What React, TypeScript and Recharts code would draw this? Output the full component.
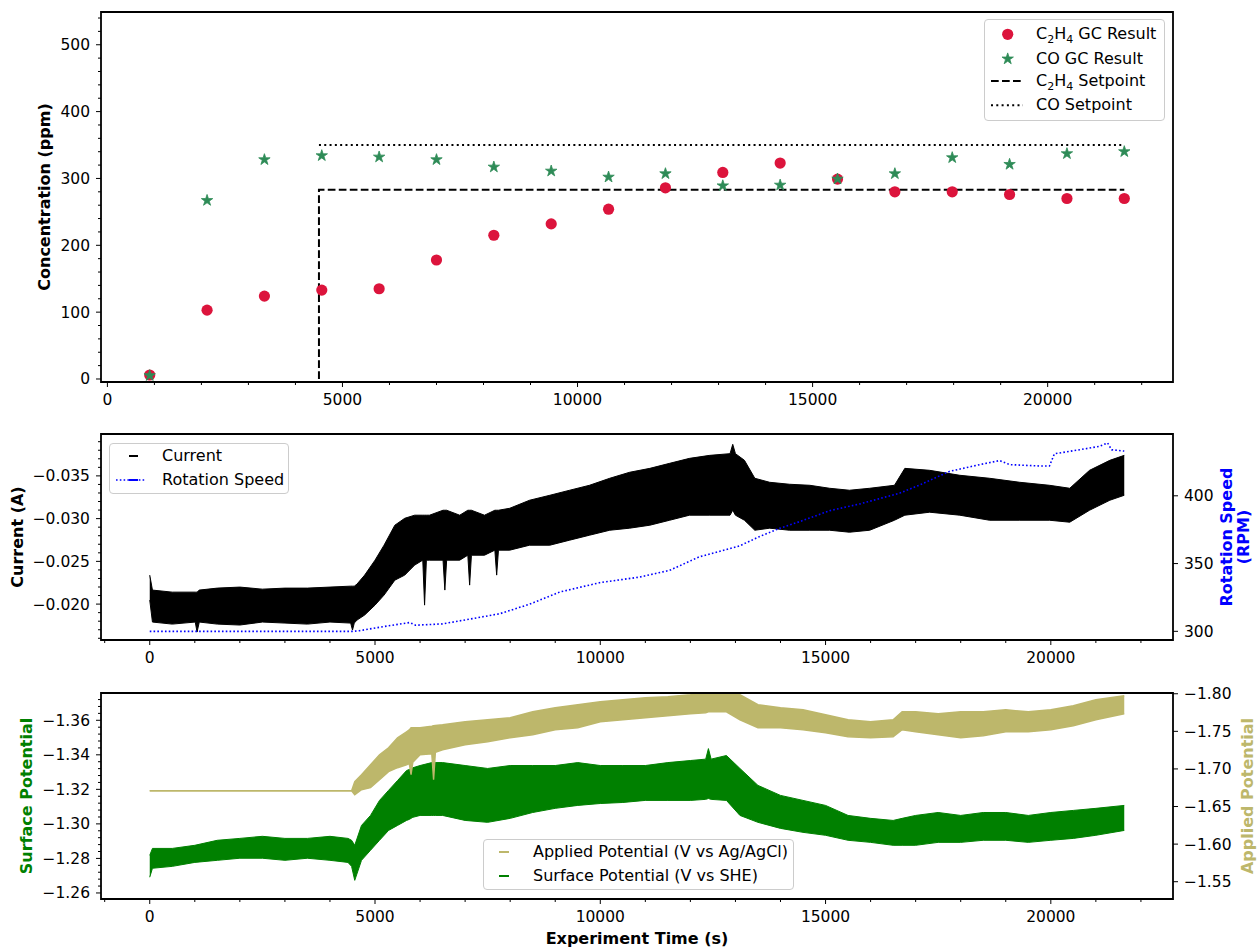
import React from "react";
import { Area, ComposedChart, Line, ReferenceArea, Scatter, XAxis, YAxis } from "recharts";

const FONT = "'DejaVu Sans', Verdana, sans-serif";

// ---- top panel: GC results (ppm) ----
const GC_TIME = [900, 2120, 3340, 4560, 5780, 7000, 8220, 9440, 10660, 11870, 13090, 14310, 15530, 16750, 17970, 19190, 20410, 21630];
const C2H4_GC = [6, 103, 124, 133, 135, 178, 215, 232, 254, 286, 309, 323, 299, 280, 280, 276, 270, 270];
const CO_GC = [6, 268, 329, 335, 333, 329, 318, 312, 303, 308, 290, 291, 300, 308, 332, 322, 338, 341];
const C2H4_SET_TIME = [4500, 4500, 21630];
const C2H4_SET = [0, 283, 283];
const CO_SET_TIME = [4500, 21630];
const CO_SET = [350, 350];

// ---- middle panel: current (A) envelope and rotation speed (RPM) ----
const CURRENT_TIME = [0, 60, 500, 1010, 1050, 1100, 1500, 2000, 2500, 3000, 3500, 4000, 4460, 4500, 4540, 4600, 4770, 5000, 5200, 5440, 5660, 5880, 6060, 6100, 6140, 6210, 6510, 6550, 6590, 6880, 7060, 7100, 7140, 7430, 7660, 7700, 7740, 7990, 8430, 8880, 9320, 9760, 10210, 10650, 11100, 11540, 11980, 12430, 12880, 12940, 13000, 13200, 13430, 13760, 14200, 14650, 15090, 15530, 15980, 16530, 16760, 17310, 17980, 18640, 19310, 19970, 20420, 20860, 21310, 21630];
const CURRENT_TOP = [-0.02339, -0.02164, -0.0214, -0.0214, -0.0214, -0.02164, -0.02187, -0.02199, -0.02175, -0.02187, -0.02187, -0.02199, -0.0221, -0.0221, -0.0221, -0.02234, -0.02339, -0.02514, -0.02689, -0.02923, -0.03004, -0.0304, -0.0304, -0.0304, -0.0304, -0.0304, -0.03098, -0.03098, -0.03098, -0.0304, -0.03098, -0.03098, -0.03098, -0.0304, -0.03098, -0.03098, -0.03098, -0.03121, -0.03215, -0.03273, -0.03332, -0.0339, -0.03472, -0.03542, -0.03588, -0.03647, -0.03705, -0.0374, -0.0376, -0.03869, -0.0376, -0.03682, -0.03472, -0.03425, -0.03402, -0.0339, -0.03355, -0.03332, -0.03355, -0.0339, -0.03588, -0.03565, -0.03507, -0.03472, -0.03425, -0.0339, -0.03355, -0.03565, -0.03682, -0.0374];
const CURRENT_BOTTOM = [-0.02047, -0.0179, -0.01766, -0.0179, -0.01673, -0.0179, -0.01766, -0.01755, -0.0179, -0.01778, -0.01766, -0.0179, -0.01778, -0.01696, -0.01778, -0.01813, -0.01872, -0.01988, -0.02105, -0.0228, -0.02339, -0.02456, -0.02514, -0.01988, -0.02514, -0.02514, -0.02514, -0.02164, -0.02514, -0.02514, -0.02572, -0.02222, -0.02572, -0.02572, -0.02631, -0.02339, -0.02631, -0.02631, -0.02689, -0.02689, -0.02748, -0.02806, -0.02864, -0.02888, -0.02923, -0.02981, -0.0304, -0.0304, -0.0304, -0.03098, -0.0304, -0.02981, -0.02864, -0.02888, -0.02864, -0.02864, -0.02864, -0.02841, -0.02864, -0.02981, -0.0304, -0.03075, -0.0304, -0.02981, -0.02981, -0.02981, -0.02958, -0.03098, -0.03215, -0.03273];
const RPM_TIME = [0, 4500, 4660, 5100, 5770, 5900, 6500, 7100, 7770, 8430, 9100, 10000, 10870, 11540, 12200, 13090, 13540, 13980, 14430, 15090, 15760, 16650, 17090, 17750, 18420, 18860, 19090, 19750, 19970, 20080, 20640, 21080, 21260, 21350, 21630];
const RPM = [300, 300, 300.5, 303, 306.5, 304.5, 305.5, 309, 313, 320, 329, 336, 340, 345, 355, 363, 370, 376, 381, 389, 394, 402, 408, 418, 423, 426, 423, 422, 422, 431, 434, 436.5, 439, 434, 433];

// ---- bottom panel: surface and applied potential envelopes (V) ----
const POT_TIME = [0, 60, 500, 1000, 1500, 2000, 2500, 3000, 3500, 4000, 4400, 4480, 4550, 4700, 4900, 5100, 5300, 5500, 5700, 5760, 5800, 5840, 6000, 6260, 6300, 6340, 6500, 7000, 7500, 8000, 8500, 9000, 9500, 10000, 10500, 11000, 11500, 12000, 12340, 12400, 12460, 12800, 13100, 13500, 14000, 14500, 15000, 15500, 16000, 16500, 16700, 17000, 17500, 18000, 18500, 19000, 19500, 20000, 20500, 21000, 21630];
const SURFACE_TOP = [-1.2818, -1.2858, -1.2858, -1.2876, -1.2905, -1.2916, -1.2928, -1.2916, -1.2916, -1.2928, -1.2916, -1.2905, -1.2876, -1.2991, -1.3049, -1.3136, -1.3194, -1.3251, -1.3309, -1.3315, -1.3321, -1.3325, -1.3338, -1.3355, -1.3355, -1.3355, -1.3355, -1.3338, -1.3321, -1.3338, -1.3338, -1.3338, -1.3355, -1.3338, -1.3338, -1.3338, -1.3355, -1.3367, -1.3375, -1.3436, -1.3375, -1.3396, -1.3321, -1.3223, -1.3165, -1.3136, -1.3107, -1.3049, -1.3032, -1.302, -1.3032, -1.3049, -1.3066, -1.3049, -1.3066, -1.3066, -1.3049, -1.3066, -1.3078, -1.309, -1.3107];
const SURFACE_BOTTOM = [-1.2691, -1.2743, -1.2754, -1.2777, -1.2789, -1.2801, -1.2801, -1.2789, -1.2801, -1.2789, -1.2777, -1.2754, -1.2673, -1.2789, -1.2847, -1.2905, -1.2962, -1.2991, -1.302, -1.3026, -1.3032, -1.3038, -1.3049, -1.3049, -1.3049, -1.3049, -1.3049, -1.302, -1.3009, -1.3032, -1.3066, -1.309, -1.3107, -1.3118, -1.3124, -1.3136, -1.3136, -1.3136, -1.3142, -1.3147, -1.3142, -1.3136, -1.3049, -1.3009, -1.2974, -1.2951, -1.2934, -1.2905, -1.2893, -1.2876, -1.2876, -1.2876, -1.2893, -1.2893, -1.2905, -1.2905, -1.2893, -1.2905, -1.2916, -1.2934, -1.2962];
const APPLIED_TOP = [-1.671, -1.671, -1.671, -1.671, -1.671, -1.671, -1.671, -1.671, -1.671, -1.671, -1.671, -1.671, -1.683, -1.6923, -1.7056, -1.7189, -1.7282, -1.7415, -1.7495, -1.752, -1.7548, -1.7548, -1.7548, -1.757, -1.7574, -1.7578, -1.7588, -1.7628, -1.7654, -1.7681, -1.776, -1.7814, -1.7854, -1.7894, -1.792, -1.7947, -1.796, -1.7987, -1.801, -1.8027, -1.803, -1.804, -1.7987, -1.7854, -1.7814, -1.7787, -1.772, -1.7654, -1.7628, -1.7654, -1.776, -1.776, -1.7734, -1.776, -1.776, -1.7787, -1.776, -1.7787, -1.784, -1.792, -1.7973];
const APPLIED_BOTTOM = [-1.671, -1.671, -1.671, -1.671, -1.671, -1.671, -1.671, -1.671, -1.671, -1.671, -1.671, -1.671, -1.6657, -1.6723, -1.675, -1.6856, -1.6963, -1.7016, -1.7056, -1.707, -1.6923, -1.709, -1.7189, -1.72, -1.6856, -1.722, -1.7255, -1.7322, -1.7362, -1.7415, -1.7455, -1.7521, -1.7548, -1.7628, -1.7654, -1.7681, -1.7707, -1.7734, -1.7748, -1.776, -1.776, -1.776, -1.7654, -1.7548, -1.7548, -1.7521, -1.7481, -1.7428, -1.7415, -1.7428, -1.7521, -1.7495, -1.7455, -1.7415, -1.7441, -1.7495, -1.7495, -1.7521, -1.7574, -1.7654, -1.7734];

// ---- axes ----
const TOP_X_DOMAIN = [-136, 22666];
const TOP_Y_DOMAIN = [-4.5, 549];
const TS_X_DOMAIN = [-1082, 22712];
const CUR_DOMAIN = [-0.0399, -0.0158];
const RPM_DOMAIN = [293.6, 445.6];
const SURF_DOMAIN = [-1.3758, -1.2565];
const APPL_DOMAIN = [-1.801, -1.527];

const TIME_TICKS = [0, 5000, 10000, 15000, 20000];
const PPM_TICKS = [0, 100, 200, 300, 400, 500];
const CUR_TICKS = [-0.035, -0.03, -0.025, -0.02];
const RPM_TICKS = [300, 350, 400];
const SURF_TICKS = [-1.36, -1.34, -1.32, -1.3, -1.28, -1.26];
const APPL_TICKS = [-1.8, -1.75, -1.7, -1.65, -1.6, -1.55];

const steps = (from: number, to: number, step: number) => {
  const out: number[] = [];
  const n = Math.round((to - from) / step);
  for (let i = 0; i <= n; i++) out.push(Number((from + i * step).toFixed(6)));
  return out;
};

const TOP_X_MINOR = steps(0, 22000, 1000);
const TS_X_MINOR = steps(-1000, 22000, 1000);
const PPM_MINOR = steps(0, 540, 20);
const CUR_MINOR = steps(-0.039, -0.016, 0.001);
const SURF_MINOR = steps(-1.372, -1.26, 0.004);

const minus = (s: string) => s.replace("-", "\u2212");
const isMajor = (v: number, majors: number[]) => majors.some((m) => Math.abs(m - v) < 1e-9);
const tickText = { fontFamily: FONT, fontSize: 15.5, fill: "#000" };

function bottomTick(majors: number[]) {
  return (props: any) => {
    const { x, y, payload } = props;
    const major = isMajor(payload.value, majors);
    return (
      <g>
        <line x1={x} x2={x} y1={y} y2={y + (major ? 5 : 3)} stroke="#000" strokeWidth={1} />
        {major && (
          <text x={x} y={y + 23} textAnchor="middle" {...tickText}>
            {minus(String(payload.value))}
          </text>
        )}
      </g>
    );
  };
}

function leftTick(majors: number[], fmt: (v: number) => string) {
  return (props: any) => {
    const { x, y, payload } = props;
    const major = isMajor(payload.value, majors);
    return (
      <g>
        <line x1={x} x2={x - (major ? 5 : 3)} y1={y} y2={y} stroke="#000" strokeWidth={1} />
        {major && (
          <text x={x - 11} y={y + 5.5} textAnchor="end" {...tickText}>
            {minus(fmt(payload.value))}
          </text>
        )}
      </g>
    );
  };
}

function rightTick(fmt: (v: number) => string) {
  return (props: any) => {
    const { x, y, payload } = props;
    return (
      <g>
        <line x1={x} x2={x + 5} y1={y} y2={y} stroke="#000" strokeWidth={1} />
        <text x={x + 11} y={y + 5.5} textAnchor="start" {...tickText}>
          {minus(fmt(payload.value))}
        </text>
      </g>
    );
  };
}

const axisCommon = {
  type: "number" as const,
  allowDataOverflow: true,
  axisLine: false,
  tickLine: false,
  tickSize: 0,
  tickMargin: 0,
  interval: 0 as const,
};

const circleShape = (props: any) => <circle cx={props.cx} cy={props.cy} r={5.6} fill="#dc143c" />;

function starPoints(cx: number, cy: number, R: number) {
  const r = R * 0.382;
  const pts: string[] = [];
  for (let i = 0; i < 10; i++) {
    const rad = i % 2 === 0 ? R : r;
    const a = -Math.PI / 2 + (i * Math.PI) / 5;
    pts.push(`${cx + rad * Math.cos(a)},${cy + rad * Math.sin(a)}`);
  }
  return pts.join(" ");
}
const starShape = (props: any) => (
  <polygon points={starPoints(props.cx, props.cy + 0.6, 6)} fill="#2e8b57" stroke="#2e8b57" strokeWidth={0.8} strokeLinejoin="round" />
);

function AxisTitle({ x, y, color = "#000", children }: { x: number; y: number; color?: string; children: React.ReactNode }) {
  return (
    <div
      style={{
        position: "absolute",
        left: x,
        top: y,
        transform: "translate(-50%, -50%) rotate(-90deg)",
        whiteSpace: "nowrap",
        fontFamily: FONT,
        fontWeight: "bold",
        fontSize: 16,
        lineHeight: "17px",
        textAlign: "center",
        color,
      }}
    >
      {children}
    </div>
  );
}

const legendBox: React.CSSProperties = {
  position: "absolute",
  background: "rgba(255,255,255,0.8)",
  border: "1px solid #cccccc",
  borderRadius: 4,
  boxSizing: "border-box",
  fontFamily: FONT,
  fontSize: 16,
  color: "#000",
};

const sub: React.CSSProperties = { fontSize: 11, position: "relative", top: 4, lineHeight: 0 };

function LegendText({ left, cy, children }: { left: number; cy: number; children: React.ReactNode }) {
  return (
    <span style={{ position: "absolute", left, top: cy - 10, lineHeight: "19px", whiteSpace: "nowrap" }}>{children}</span>
  );
}

export default function App() {
  const c2h4Data = GC_TIME.map((x, i) => ({ x, y: C2H4_GC[i] }));
  const coData = GC_TIME.map((x, i) => ({ x, y: CO_GC[i] }));
  const c2h4SetData = C2H4_SET_TIME.map((x, i) => ({ x, y: C2H4_SET[i] }));
  const coSetData = CO_SET_TIME.map((x, i) => ({ x, y: CO_SET[i] }));
  const currentData = CURRENT_TIME.map((t, i) => ({ t, top: CURRENT_TOP[i], bottom: CURRENT_BOTTOM[i] }));
  const rpmData = RPM_TIME.map((t, i) => ({ t, rpm: RPM[i] }));
  const potData = POT_TIME.map((t, i) => ({
    t,
    sTop: SURFACE_TOP[i],
    sBottom: SURFACE_BOTTOM[i],
    aTop: APPLIED_TOP[i],
    aBottom: APPLIED_BOTTOM[i],
  }));

  return (
    <div style={{ position: "absolute", left: 0, top: 0, width: 1257, height: 949, background: "#fff", overflow: "hidden", fontFamily: FONT }}>
      {/* top panel */}
      <div style={{ position: "absolute", left: 0, top: 0 }}>
        <ComposedChart width={1257} height={420} margin={{ top: 12, right: 84, bottom: 0, left: 0 }}>
          <XAxis {...axisCommon} dataKey="x" domain={TOP_X_DOMAIN} ticks={TOP_X_MINOR} tick={bottomTick(TIME_TICKS)} height={38} />
          <YAxis {...axisCommon} domain={TOP_Y_DOMAIN} ticks={PPM_MINOR} tick={leftTick(PPM_TICKS, (v) => String(v))} width={101} />
          <Scatter data={c2h4Data} dataKey="y" shape={circleShape} isAnimationActive={false} />
          <Scatter data={coData} dataKey="y" shape={starShape} isAnimationActive={false} />
          <Line data={c2h4SetData} dataKey="y" type="linear" stroke="#000" strokeWidth={2} strokeDasharray="7.7 3.3" dot={false} isAnimationActive={false} />
          <Line data={coSetData} dataKey="y" type="linear" stroke="#000" strokeWidth={2} strokeDasharray="2 3.3" dot={false} isAnimationActive={false} />
          <ReferenceArea x1={TOP_X_DOMAIN[0]} x2={TOP_X_DOMAIN[1]} y1={TOP_Y_DOMAIN[0]} y2={TOP_Y_DOMAIN[1]} fill="none" stroke="#000" strokeWidth={1.8} ifOverflow="visible" />
        </ComposedChart>
      </div>

      {/* middle panel */}
      <div style={{ position: "absolute", left: 0, top: 420 }}>
        <ComposedChart width={1257} height={260} data={currentData} margin={{ top: 14, right: 0, bottom: 0, left: 0 }}>
          <XAxis {...axisCommon} dataKey="t" domain={TS_X_DOMAIN} ticks={TS_X_MINOR} tick={bottomTick(TIME_TICKS)} height={40} />
          <YAxis {...axisCommon} yAxisId="cur" domain={CUR_DOMAIN} reversed ticks={CUR_MINOR} tick={leftTick(CUR_TICKS, (v) => v.toFixed(3))} width={101} />
          <YAxis {...axisCommon} yAxisId="rpm" orientation="right" domain={RPM_DOMAIN} ticks={RPM_TICKS} tick={rightTick((v) => String(v))} width={84} />
          <Area yAxisId="cur" type="linear" dataKey={(d: any) => [d.top, d.bottom]} stroke="#000" strokeWidth={1} fill="#000" fillOpacity={1} dot={false} activeDot={false} isAnimationActive={false} />
          <Line yAxisId="rpm" data={rpmData} dataKey="rpm" type="linear" stroke="#0000ff" strokeWidth={1.6} strokeDasharray="1.6 2.2" dot={false} isAnimationActive={false} />
          <ReferenceArea yAxisId="cur" x1={TS_X_DOMAIN[0]} x2={TS_X_DOMAIN[1]} y1={CUR_DOMAIN[0]} y2={CUR_DOMAIN[1]} fill="none" stroke="#000" strokeWidth={1.8} ifOverflow="visible" />
        </ComposedChart>
      </div>

      {/* bottom panel */}
      <div style={{ position: "absolute", left: 0, top: 680 }}>
        <ComposedChart width={1257} height={269} data={potData} margin={{ top: 13, right: 0, bottom: 0, left: 0 }}>
          <XAxis {...axisCommon} dataKey="t" domain={TS_X_DOMAIN} ticks={TS_X_MINOR} tick={bottomTick(TIME_TICKS)} height={50} />
          <YAxis {...axisCommon} yAxisId="surf" domain={SURF_DOMAIN} reversed ticks={SURF_MINOR} tick={leftTick(SURF_TICKS, (v) => v.toFixed(2))} width={101} />
          <YAxis {...axisCommon} yAxisId="appl" orientation="right" domain={APPL_DOMAIN} reversed ticks={APPL_TICKS} tick={rightTick((v) => v.toFixed(2))} width={84} />
          <Area yAxisId="surf" type="linear" dataKey={(d: any) => [d.sTop, d.sBottom]} stroke="#008000" strokeWidth={1} fill="#008000" fillOpacity={1} dot={false} activeDot={false} isAnimationActive={false} />
          <Area yAxisId="appl" type="linear" dataKey={(d: any) => [d.aTop, d.aBottom]} stroke="#bdb76b" strokeWidth={1.4} fill="#bdb76b" fillOpacity={1} dot={false} activeDot={false} isAnimationActive={false} />
          <ReferenceArea yAxisId="surf" x1={TS_X_DOMAIN[0]} x2={TS_X_DOMAIN[1]} y1={SURF_DOMAIN[0]} y2={SURF_DOMAIN[1]} fill="none" stroke="#000" strokeWidth={1.8} ifOverflow="visible" />
        </ComposedChart>
      </div>

      {/* axis titles */}
      <AxisTitle x={44} y={197}>Concentration (ppm)</AxisTitle>
      <AxisTitle x={17} y={537}>Current (A)</AxisTitle>
      <AxisTitle x={1235} y={537} color="#0000ff">
        Rotation Speed
        <br />
        (RPM)
      </AxisTitle>
      <AxisTitle x={26} y={796} color="#008000">Surface Potential</AxisTitle>
      <AxisTitle x={1247} y={796} color="#bdb76b">Applied Potential</AxisTitle>
      <div style={{ position: "absolute", left: 637, top: 938, transform: "translate(-50%, -50%)", fontFamily: FONT, fontWeight: "bold", fontSize: 16, whiteSpace: "nowrap" }}>
        Experiment Time (s)
      </div>

      {/* top legend */}
      <div style={{ ...legendBox, left: 984, top: 19, width: 181, height: 102 }}>
        <svg width={50} height={100} style={{ position: "absolute", left: 0, top: 0 }}>
          <circle cx={22.7} cy={14.3} r={5.6} fill="#dc143c" />
          <polygon points={starPoints(22.7, 38.9, 6)} fill="#2e8b57" stroke="#2e8b57" strokeWidth={0.8} />
          <line x1={6} x2={38} y1={61} y2={61} stroke="#000" strokeWidth={2} strokeDasharray="7.7 3.3" />
          <line x1={6} x2={38} y1={85.3} y2={85.3} stroke="#000" strokeWidth={2} strokeDasharray="2 3.3" />
        </svg>
        <LegendText left={51} cy={14.3}>
          C<span style={sub}>2</span>H<span style={sub}>4</span> GC Result
        </LegendText>
        <LegendText left={51} cy={38.5}>CO GC Result</LegendText>
        <LegendText left={51} cy={61}>
          C<span style={sub}>2</span>H<span style={sub}>4</span> Setpoint
        </LegendText>
        <LegendText left={51} cy={85.3}>CO Setpoint</LegendText>
      </div>

      {/* middle legend */}
      <div style={{ ...legendBox, left: 109, top: 443, width: 180, height: 51 }}>
        <svg width={50} height={50} style={{ position: "absolute", left: 0, top: 0 }}>
          <line x1={19} x2={28} y1={12} y2={12} stroke="#000" strokeWidth={2} />
          <line x1={6} x2={36} y1={36} y2={36} stroke="#0000ff" strokeWidth={1.6} strokeDasharray="1.6 2.2" />
          <line x1={19} x2={28} y1={36} y2={36} stroke="#0000ff" strokeWidth={2} />
        </svg>
        <LegendText left={52} cy={12}>Current</LegendText>
        <LegendText left={52} cy={36}>Rotation Speed</LegendText>
      </div>

      {/* bottom legend */}
      <div style={{ ...legendBox, left: 483, top: 839, width: 311, height: 51 }}>
        <svg width={50} height={50} style={{ position: "absolute", left: 0, top: 0 }}>
          <line x1={15} x2={25} y1={12} y2={12} stroke="#bdb76b" strokeWidth={2} />
          <line x1={15} x2={25} y1={36} y2={36} stroke="#008000" strokeWidth={2} />
        </svg>
        <LegendText left={49} cy={12}>Applied Potential (V vs Ag/AgCl)</LegendText>
        <LegendText left={49} cy={36}>Surface Potential (V vs SHE)</LegendText>
      </div>
    </div>
  );
}
